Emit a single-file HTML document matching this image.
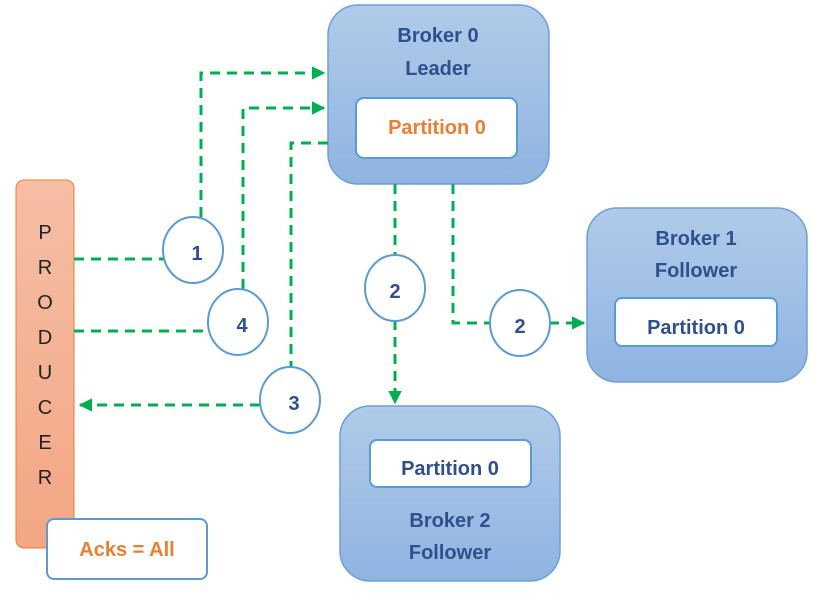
<!DOCTYPE html>
<html><head><style>
html,body{margin:0;padding:0;background:#fff;}
svg{display:block;}
text{font-family:"Liberation Sans",sans-serif;font-weight:bold;}
</style></head><body>
<svg width="819" height="593" viewBox="0 0 819 593">
<defs>
<linearGradient id="g" x1="0" y1="0" x2="0" y2="1">
<stop offset="0" stop-color="#b0cbe9"/><stop offset="1" stop-color="#8fb4e1"/></linearGradient>
<linearGradient id="o" x1="0" y1="0" x2="0" y2="1">
<stop offset="0" stop-color="#f5bea5"/><stop offset="1" stop-color="#f3a684"/></linearGradient>
<marker id="a" viewBox="0 0 10 10" refX="9" refY="5" markerWidth="4.5" markerHeight="4.5" orient="auto"><path d="M0,0L10,5L0,10z" fill="#00b050"/></marker>
</defs>
<rect x="328" y="5" width="221" height="179" rx="30" fill="url(#g)" stroke="#6f9fd8" stroke-width="1.5"/>
<rect x="356" y="98" width="161" height="60" rx="8" fill="#fff" stroke="#5b9bd5" stroke-width="2"/>
<text x="438" y="42" text-anchor="middle" font-size="20" fill="#2f4f8f">Broker 0</text>
<text x="438" y="75" text-anchor="middle" font-size="20" fill="#2f4f8f">Leader</text>
<text x="437" y="134" text-anchor="middle" font-size="20" fill="#ed7d31">Partition 0</text>

<rect x="587" y="208" width="220" height="174" rx="30" fill="url(#g)" stroke="#6f9fd8" stroke-width="1.5"/>
<rect x="615" y="298" width="162" height="48" rx="7" fill="#fff" stroke="#5b9bd5" stroke-width="2"/>
<text x="696" y="245" text-anchor="middle" font-size="20" fill="#2f4f8f">Broker 1</text>
<text x="696" y="277" text-anchor="middle" font-size="20" fill="#2f4f8f">Follower</text>
<text x="696" y="334" text-anchor="middle" font-size="20" fill="#2f4f8f">Partition 0</text>

<rect x="340" y="406" width="220" height="175" rx="30" fill="url(#g)" stroke="#6f9fd8" stroke-width="1.5"/>
<rect x="370" y="440" width="161" height="47" rx="7" fill="#fff" stroke="#5b9bd5" stroke-width="2"/>
<text x="450" y="475" text-anchor="middle" font-size="20" fill="#2f4f8f">Partition 0</text>
<text x="450" y="527" text-anchor="middle" font-size="20" fill="#2f4f8f">Broker 2</text>
<text x="450" y="559" text-anchor="middle" font-size="20" fill="#2f4f8f">Follower</text>

<rect x="16" y="180" width="58" height="368" rx="8" fill="url(#o)" stroke="#ed7d31" stroke-width="1"/>
<g font-size="20" fill="#222" text-anchor="middle">
<text x="45" y="239" style="font-weight:normal">P</text>
<text x="45" y="274" style="font-weight:normal">R</text>
<text x="45" y="309" style="font-weight:normal">O</text>
<text x="45" y="344" style="font-weight:normal">D</text>
<text x="45" y="379" style="font-weight:normal">U</text>
<text x="45" y="414" style="font-weight:normal">C</text>
<text x="45" y="449" style="font-weight:normal">E</text>
<text x="45" y="484" style="font-weight:normal">R</text>
</g>
<rect x="47" y="519" width="160" height="60" rx="7" fill="#fff" stroke="#5b9bd5" stroke-width="2"/>
<text x="127" y="556" text-anchor="middle" font-size="20" fill="#ed7d31">Acks = All</text>

<g stroke="#00b050" stroke-width="3" fill="none" stroke-dasharray="10,7">
<path d="M74,259H164"/>
<path d="M201,217V73H324" marker-end="url(#a)"/>
<path d="M74,331H207"/>
<path d="M243,289V108H324" marker-end="url(#a)"/>
<path d="M328,143H291V370"/>
<path d="M260,405H80" marker-end="url(#a)"/>
<path d="M395,184V255"/>
<path d="M395,320V403" marker-end="url(#a)"/>
<path d="M453,184V323H490"/>
<path d="M549,323H584" marker-end="url(#a)"/>
</g>

<g fill="#fff" stroke="#5b9bd5" stroke-width="2">
<ellipse cx="193" cy="250" rx="30" ry="33"/>
<ellipse cx="238" cy="322" rx="30" ry="33"/>
<ellipse cx="290" cy="400" rx="30" ry="33"/>
<ellipse cx="395" cy="288" rx="30" ry="33"/>
<ellipse cx="520" cy="323" rx="30" ry="33"/>
</g>
<g font-size="20" fill="#2f4f8f" text-anchor="middle">
<text x="197" y="260">1</text>
<text x="242" y="332">4</text>
<text x="294" y="410">3</text>
<text x="395" y="298">2</text>
<text x="520" y="333">2</text>
</g>
</svg>
</body></html>
